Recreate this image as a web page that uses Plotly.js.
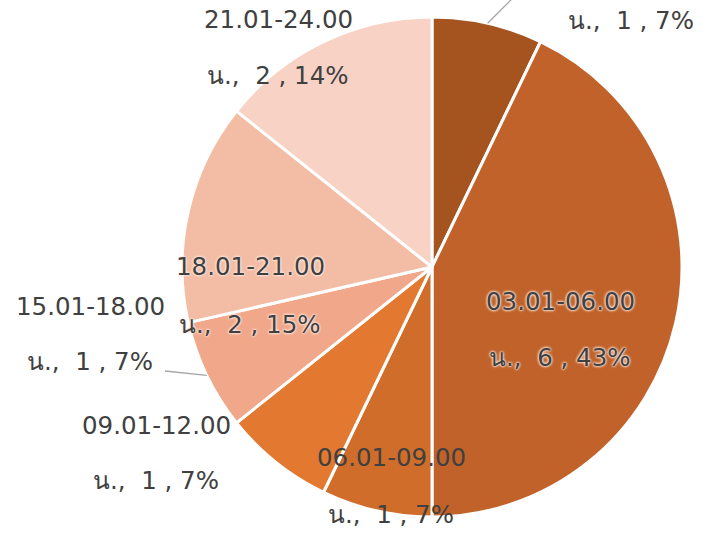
<!DOCTYPE html>
<html>
<head>
<meta charset="utf-8">
<script src="https://cdn.plot.ly/plotly-3.0.1.min.js"></script>
<style>
  html, body { margin: 0; padding: 0; background: #fff; }
  #chart { width: 718px; height: 540px; }
</style>
</head>
<body>
<div id="chart"></div>
<script>
// Time-of-day ranges (clockwise from 12 o'clock)
const categories = ['00.01-03.00', '03.01-06.00', '06.01-09.00', '09.01-12.00', '15.01-18.00', '18.01-21.00', '21.01-24.00'];
const unit = 'น.';
const counts = [1, 6, 1, 1, 1, 2, 2];
const percentLabels = ['7%', '43%', '7%', '7%', '7%', '15%', '14%'];

const sliceColors = ['#A5541F', '#C0622A', '#D16D2A', '#E37830', '#F0A78A', '#F3BCA5', '#F7D2C5'];

// Layout of the figure in pixels
const W = 718, H = 540;
const cx = 432, cy = 267, R = 250;

// Label placement (pixel centres of the two text lines); y1 null = range line falls above the frame
const labelLayout = [
  { x: 631, y1: null, y2: 21, halo: false, leader: 'out' },
  { x: 560, y1: 301, y2: 357, halo: true },
  { x: 391, y1: 457, y2: 514, halo: false },
  { x: 156, y1: 425, y2: 480, halo: false },
  { x: 90, y1: 306, y2: 361, halo: false, leader: 'left' },
  { x: 250, y1: 266, y2: 324, halo: true },
  { x: 278, y1: 20, y2: 76, halo: false }
];

const px = v => v / W;
const py = v => 1 - v / H;

const font = { family: 'DejaVu Sans, Noto Sans, sans-serif', size: 24.5, color: '#404040' };
const haloFont = Object.assign({}, font, { shadow: '0 0 3px #fbe6da, 0 0 3px #fbe6da, 0 0 2px #fff' });

const annotations = [];
const shapes = [];
const total = counts.reduce((a, b) => a + b, 0);
let cum = 0;
categories.forEach((cat, i) => {
  const L = labelLayout[i];
  const f = L.halo ? haloFont : font;
  if (L.y1 !== null) {
    annotations.push({ xref: 'paper', yref: 'paper', x: px(L.x), y: py(L.y1), xanchor: 'center', yanchor: 'middle',
      text: cat, showarrow: false, font: f });
  }
  annotations.push({ xref: 'paper', yref: 'paper', x: px(L.x), y: py(L.y2), xanchor: 'center', yanchor: 'middle',
    text: unit + ',\u00a0\u00a0' + counts[i] + ' , ' + percentLabels[i], showarrow: false, font: f });

  // leader line from the middle of the slice's arc
  const mid = (cum + counts[i] / 2) / total * 2 * Math.PI;
  cum += counts[i];
  const ex = cx + R * Math.sin(mid), ey = cy - R * Math.cos(mid);
  if (L.leader === 'out') {
    shapes.push({ type: 'line', xref: 'paper', yref: 'paper', x0: px(ex), y0: py(ey), x1: px(ex + 30), y1: py(ey - 30),
      line: { color: '#A6A6A6', width: 1.3 } });
  } else if (L.leader === 'left') {
    shapes.push({ type: 'line', xref: 'paper', yref: 'paper', x0: px(ex), y0: py(ey), x1: px(165), y1: py(371),
      line: { color: '#A6A6A6', width: 1.3 } });
  }
});

const trace = {
  type: 'pie',
  labels: categories,
  values: counts,
  sort: false,
  direction: 'clockwise',
  rotation: 0,
  textinfo: 'none',
  hoverinfo: 'label+value+percent',
  marker: { colors: sliceColors, line: { color: '#ffffff', width: 3 } },
  domain: { x: [px(cx - R), px(cx + R)], y: [py(cy + R), py(cy - R)] },
  showlegend: false
};

const layout = {
  width: W, height: H,
  margin: { l: 0, r: 0, t: 0, b: 0 },
  paper_bgcolor: '#ffffff',
  showlegend: false,
  annotations: annotations,
  shapes: shapes
};

Plotly.newPlot('chart', [trace], layout, { displayModeBar: false, staticPlot: true });
</script>
</body>
</html>
